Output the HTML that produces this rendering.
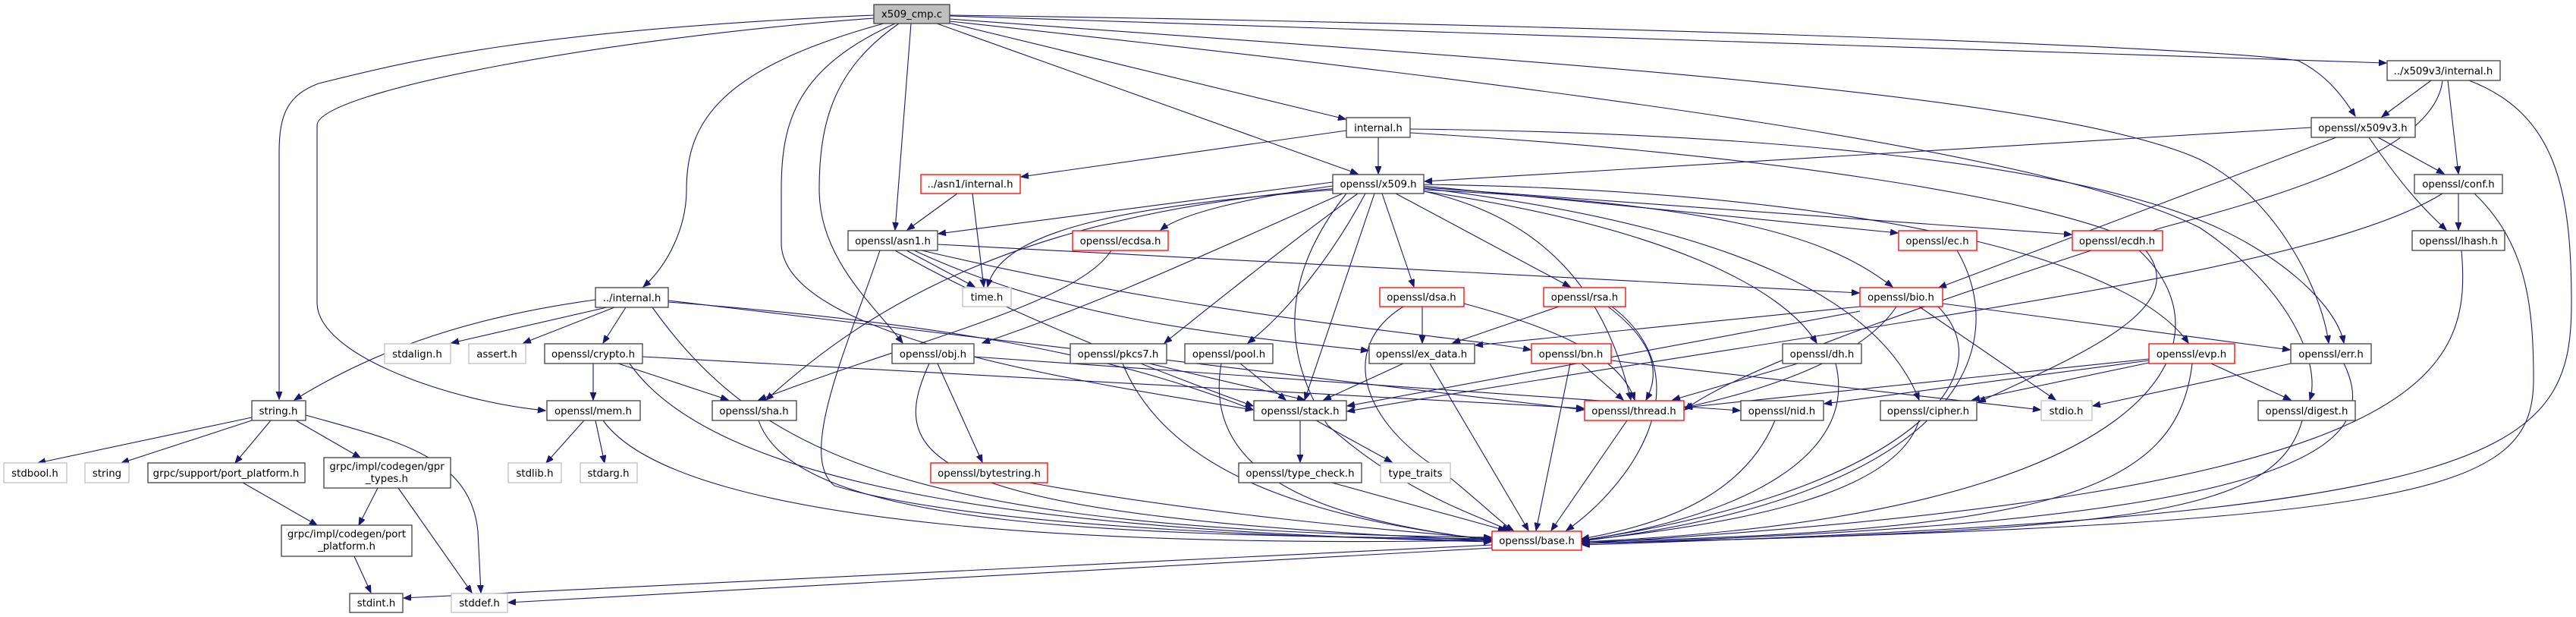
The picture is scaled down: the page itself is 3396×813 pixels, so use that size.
<!DOCTYPE html>
<html><head><meta charset="utf-8"><style>
html,body{margin:0;padding:0;background:#fff;}
svg{display:block;}
text{font-family:"DejaVu Sans","Liberation Sans",sans-serif;font-size:13.3px;fill:#000;text-anchor:middle;}
.e{fill:none;stroke:#191970;stroke-width:1.1;marker-end:url(#a);}
.nb{fill:#fff;stroke:#404040;stroke-width:1.3;}
.nr{fill:#fff;stroke:#ff0000;stroke-width:1.3;}
.ng{fill:#fff;stroke:#bfbfbf;stroke-width:1.3;}
</style></head><body>
<svg width="3396" height="813" viewBox="0 0 3396 813" xmlns="http://www.w3.org/2000/svg">
<defs><marker id="a" markerUnits="userSpaceOnUse" markerWidth="12" markerHeight="10" refX="10" refY="4" orient="auto"><path d="M0,0 L10,4 L0,8 z" fill="#191970" stroke="#191970"/></marker></defs>
<g>
<!-- edges from x509_cmp.c -->
<path class="e" d="M1152,20 C700,40 540,80 420,110 C380,125 368,150 368,200 L368,526"/>
<path class="e" d="M1152,24 C800,50 420,120 418,165 L418,400 C420,470 600,530 719,541"/>
<path class="e" d="M1165,31 C950,90 905,160 905,250 C905,300 880,350 848,378"/>
<path class="e" d="M1180,31 C1050,90 1030,160 1030,250 L1030,320 C1030,440 1400,500 1652,540"/>
<path class="e" d="M1185,31 C1100,90 1080,160 1080,250 C1080,340 1150,400 1190,452"/>
<path class="e" d="M1201,31 L1180,303"/>
<path class="e" d="M1235,31 L1790,229"/>
<path class="e" d="M1250,30 L1774,157"/>
<path class="e" d="M1252,20 C2000,30 2900,60 3030,80 C3070,100 3090,130 3105,153"/>
<path class="e" d="M1252,21 L3146,83"/>
<path class="e" d="M1252,25 C2000,80 2700,120 2900,210 C3000,260 3060,380 3070,452"/>
<path class="e" d="M1252,28 C2100,120 2700,200 2900,300 C3020,380 3060,480 3045,527"/>
<!-- internal.h -->
<path class="e" d="M1817,181 L1817,229"/>
<path class="e" d="M1775,172 L1346,233"/>
<path class="e" d="M1859,170 C2300,175 2700,210 2900,290 C3000,330 3080,400 3090,452"/>
<path class="e" d="M1859,175 C2300,200 2700,260 2820,320 C2900,400 2760,460 2608,530"/>
<!-- ../asn1/internal.h -->
<path class="e" d="M1262,255 L1196,303"/>
<path class="e" d="M1282,255 L1297,378"/>
<!-- x509.h -->
<path class="e" d="M1757,240 L1237,308"/>
<path class="e" d="M1757,245 C1650,260 1560,280 1530,303"/>
<path class="e" d="M1877,245 L2502,307"/>
<path class="e" d="M1877,247 L2731,309"/>
<path class="e" d="M1822,255 L1864,378"/>
<path class="e" d="M1840,255 L2070,378"/>
<path class="e" d="M1877,250 C2300,270 2420,320 2495,378"/>
<path class="e" d="M1877,243 C2400,250 2800,330 2885,452"/>
<path class="e" d="M1760,250 C1500,270 1320,300 1302,378"/>
<path class="e" d="M1812,255 L1720,527"/>
<path class="e" d="M1770,255 C1600,330 1450,400 1295,452"/>
<path class="e" d="M1790,255 C1700,320 1600,400 1535,452"/>
<path class="e" d="M1800,255 C1760,330 1700,410 1645,452"/>
<path class="e" d="M1765,248 C1350,280 1150,400 1010,527"/>
<path class="e" d="M1877,252 C2050,290 2120,400 2150,527"/>
<path class="e" d="M1877,252 C2200,300 2350,380 2395,452"/>
<path class="e" d="M1877,248 C2300,300 2480,400 2530,527"/>
<path class="e" d="M1775,255 C1700,350 1680,450 1750,560 C1850,650 1950,680 1990,699"/>
<!-- asn1.h -->
<path class="e" d="M1195,330 L1285,378"/>
<path class="e" d="M1236,322 L2451,386"/>
<path class="e" d="M1160,330 C1120,450 1050,600 1100,640 C1300,700 1800,710 1966,712"/>
<path class="e" d="M1180,330 C1300,400 1500,480 1652,535"/>
<path class="e" d="M1205,330 C1400,420 1600,440 1804,462"/>
<path class="e" d="M1215,330 C1600,420 1900,440 2018,461"/>
<!-- ../internal.h -->
<path class="e" d="M785,395 C600,420 480,470 388,527"/>
<path class="e" d="M800,405 L595,452"/>
<path class="e" d="M810,405 L690,452"/>
<path class="e" d="M825,405 L795,452"/>
<path class="e" d="M881,396 L2088,540"/>
<path class="e" d="M881,398 C1300,430 1500,480 1652,540"/>
<path class="e" d="M860,405 C1000,600 1200,700 1966,708"/>
<!-- crypto.h -->
<path class="e" d="M782,479 L782,527"/>
<path class="e" d="M815,479 L960,527"/>
<path class="e" d="M847,470 L2088,538"/>
<path class="e" d="M830,479 C950,650 1400,700 1966,714"/>
<!-- string.h family -->
<path class="e" d="M332,550 L50,610"/>
<path class="e" d="M332,554 L160,610"/>
<path class="e" d="M357,554 L310,610"/>
<path class="e" d="M390,554 L475,603"/>
<path class="e" d="M403,547 C520,580 620,600 630,700 L634,781"/>
<path class="e" d="M320,636 L418,692"/>
<path class="e" d="M498,643 L473,692"/>
<path class="e" d="M525,643 L622,781"/>
<path class="e" d="M467,733 L489,781"/>
<!-- mem.h -->
<path class="e" d="M770,554 L720,610"/>
<path class="e" d="M785,554 L797,610"/>
<path class="e" d="M795,554 C900,700 1500,720 1966,712"/>
<!-- base.h -->
<path class="e" d="M1967,718 L532,788"/>
<path class="e" d="M1967,722 L670,794"/>
<!-- others -->
<path class="e" d="M1000,554 C1050,700 1500,705 1966,710"/>
<path class="e" d="M1236,479 L1295,609"/>
<path class="e" d="M1225,479 C1170,600 1200,680 1966,712"/>
<path class="e" d="M1284,470 L2294,541"/>
<path class="e" d="M1357,636 C1600,680 1850,700 1966,710"/>
<path class="e" d="M1515,479 L1720,527"/>
<path class="e" d="M1480,479 C1550,650 1800,690 1966,712"/>
<path class="e" d="M1635,479 L1695,527"/>
<path class="e" d="M1610,479 C1580,650 1800,690 1966,712"/>
<path class="e" d="M1850,479 L1745,527"/>
<path class="e" d="M1885,479 L2015,699"/>
<path class="e" d="M1714,554 L1714,609"/>
<path class="e" d="M1735,554 L1835,609"/>
<path class="e" d="M1756,636 L1985,699"/>
<path class="e" d="M1875,404 L1875,452"/>
<path class="e" d="M1930,400 C2080,440 2140,480 2155,527"/>
<path class="e" d="M1850,404 C1760,460 1800,560 1900,620 C1950,660 1980,690 1995,699"/>
<path class="e" d="M2055,404 L1915,452"/>
<path class="e" d="M2120,404 C2180,450 2190,490 2170,527"/>
<path class="e" d="M2125,404 C2250,500 2150,640 2065,699"/>
<path class="e" d="M2452,404 L1945,455"/>
<path class="e" d="M2452,410 L1776,535"/>
<path class="e" d="M2500,404 C2450,480 2300,520 2221,537"/>
<path class="e" d="M2530,404 L2710,527"/>
<path class="e" d="M2561,400 L3019,461"/>
<path class="e" d="M2555,404 C2650,500 2500,650 2085,712"/>
<path class="e" d="M2085,479 L2140,527"/>
<path class="e" d="M2070,479 L2025,699"/>
<path class="e" d="M2124,475 L2690,540"/>
<path class="e" d="M2370,479 L2205,527"/>
<path class="e" d="M2420,479 C2450,600 2300,680 2085,712"/>
<path class="e" d="M2145,554 L2045,699"/>
<path class="e" d="M2340,554 C2300,650 2200,690 2085,710"/>
<path class="e" d="M2530,554 C2500,650 2300,690 2085,712"/>
<path class="e" d="M2833,478 L2600,527"/>
<path class="e" d="M2915,479 L3020,527"/>
<path class="e" d="M2890,479 C2870,650 2700,700 2085,714"/>
<path class="e" d="M2833,475 L2405,532"/>
<path class="e" d="M2833,473 L2221,537"/>
<path class="e" d="M3020,479 L2759,535"/>
<path class="e" d="M3090,479 C3150,600 3000,690 2085,716"/>
<path class="e" d="M3035,554 C3000,680 2800,700 2085,716"/>
<path class="e" d="M2580,330 C2650,450 2600,650 2085,713"/>
<path class="e" d="M2820,330 C2950,450 2850,680 2085,714"/>
<path class="e" d="M1465,330 C1420,400 1200,450 1000,527"/>
<!-- x509v3 -->
<path class="e" d="M3205,106 L3140,154"/>
<path class="e" d="M3227,106 L3241,229"/>
<path class="e" d="M3255,106 C3370,150 3390,250 3390,400 C3390,600 3300,680 2086,718"/>
<path class="e" d="M3220,106 C3210,200 3000,260 2850,300 C2600,380 2300,480 2221,540"/>
<path class="e" d="M3047,168 L1878,239"/>
<path class="e" d="M3080,181 L2556,379"/>
<path class="e" d="M3135,181 L3222,229"/>
<path class="e" d="M3123,181 C3170,250 3200,280 3225,303"/>
<path class="e" d="M3241,255 L3241,303"/>
<path class="e" d="M3220,255 C3050,360 2500,420 1776,542"/>
<path class="e" d="M3262,255 C3330,320 3340,400 3340,500 C3340,650 3200,690 2086,716"/>
<path class="e" d="M3245,330 C3260,500 3200,650 2086,716"/>
</g>
<g>
<rect x="1152" y="6" width="100" height="25" fill="#bfbfbf" stroke="#404040" stroke-width="1.3"/><text x="1202" y="23">x509_cmp.c</text>
<rect class="nb" x="3147" y="80" width="149" height="26"/><text x="3221" y="98">../x509v3/internal.h</text>
<rect class="nb" x="1775" y="155" width="84" height="26"/><text x="1817" y="173">internal.h</text>
<rect class="nb" x="3047" y="155" width="137" height="26"/><text x="3115" y="173">openssl/x509v3.h</text>
<rect class="nr" x="1214" y="230" width="131" height="25"/><text x="1279" y="247">../asn1/internal.h</text>
<rect class="nb" x="1757" y="230" width="120" height="25"/><text x="1817" y="247">openssl/x509.h</text>
<rect class="nb" x="3183" y="230" width="116" height="25"/><text x="3241" y="247">openssl/conf.h</text>
<rect class="nb" x="1118" y="304" width="118" height="26"/><text x="1177" y="322">openssl/asn1.h</text>
<rect class="nr" x="1414" y="304" width="126" height="26"/><text x="1477" y="322">openssl/ecdsa.h</text>
<rect class="nr" x="2503" y="304" width="103" height="26"/><text x="2554" y="322">openssl/ec.h</text>
<rect class="nr" x="2732" y="304" width="119" height="26"/><text x="2791" y="322">openssl/ecdh.h</text>
<rect class="nb" x="3180" y="304" width="122" height="26"/><text x="3241" y="322">openssl/lhash.h</text>
<rect class="nb" x="785" y="379" width="96" height="26"/><text x="833" y="397">../internal.h</text>
<rect class="ng" x="1269" y="379" width="64" height="25"/><text x="1301" y="396">time.h</text>
<rect class="nr" x="1819" y="379" width="111" height="25"/><text x="1874" y="396">openssl/dsa.h</text>
<rect class="nr" x="2035" y="379" width="108" height="25"/><text x="2089" y="396">openssl/rsa.h</text>
<rect class="nr" x="2452" y="379" width="109" height="25"/><text x="2506" y="396">openssl/bio.h</text>
<rect class="ng" x="507" y="453" width="87" height="26"/><text x="550" y="471">stdalign.h</text>
<rect class="ng" x="618" y="453" width="75" height="26"/><text x="655" y="471">assert.h</text>
<rect class="nb" x="718" y="453" width="129" height="26"/><text x="782" y="471">openssl/crypto.h</text>
<rect class="nb" x="1176" y="453" width="108" height="26"/><text x="1230" y="471">openssl/obj.h</text>
<rect class="nb" x="1411" y="453" width="127" height="26"/><text x="1474" y="471">openssl/pkcs7.h</text>
<rect class="nb" x="1562" y="453" width="116" height="26"/><text x="1620" y="471">openssl/pool.h</text>
<rect class="nb" x="1805" y="453" width="139" height="26"/><text x="1874" y="471">openssl/ex_data.h</text>
<rect class="nr" x="2019" y="453" width="105" height="26"/><text x="2071" y="471">openssl/bn.h</text>
<rect class="nb" x="2350" y="453" width="104" height="26"/><text x="2402" y="471">openssl/dh.h</text>
<rect class="nr" x="2833" y="453" width="113" height="26"/><text x="2889" y="471">openssl/evp.h</text>
<rect class="nb" x="3020" y="453" width="106" height="26"/><text x="3073" y="471">openssl/err.h</text>
<rect class="nb" x="332" y="528" width="71" height="26"/><text x="367" y="546">string.h</text>
<rect class="nb" x="721" y="528" width="123" height="26"/><text x="782" y="546">openssl/mem.h</text>
<rect class="nb" x="939" y="528" width="111" height="26"/><text x="994" y="546">openssl/sha.h</text>
<rect class="nb" x="1653" y="528" width="122" height="26"/><text x="1714" y="546">openssl/stack.h</text>
<rect class="nr" x="2089" y="528" width="131" height="26"/><text x="2154" y="546">openssl/thread.h</text>
<rect class="nb" x="2295" y="528" width="109" height="26"/><text x="2349" y="546">openssl/nid.h</text>
<rect class="nb" x="2479" y="528" width="127" height="26"/><text x="2542" y="546">openssl/cipher.h</text>
<rect class="ng" x="2691" y="528" width="67" height="26"/><text x="2724" y="546">stdio.h</text>
<rect class="nb" x="2977" y="528" width="128" height="26"/><text x="3041" y="546">openssl/digest.h</text>
<rect class="ng" x="5" y="610" width="83" height="26"/><text x="46" y="628">stdbool.h</text>
<rect class="ng" x="112" y="610" width="58" height="26"/><text x="141" y="628">string</text>
<rect class="nb" x="195" y="610" width="207" height="26"/><text x="298" y="628">grpc/support/port_platform.h</text>
<rect class="nb" x="427" y="603" width="167" height="40"/><text x="510" y="619">grpc/impl/codegen/gpr</text><text x="510" y="635">_types.h</text>
<rect class="ng" x="670" y="610" width="70" height="26"/><text x="705" y="628">stdlib.h</text>
<rect class="ng" x="765" y="610" width="75" height="26"/><text x="802" y="628">stdarg.h</text>
<rect class="nr" x="1227" y="610" width="154" height="26"/><text x="1304" y="628">openssl/bytestring.h</text>
<rect class="nb" x="1633" y="610" width="162" height="26"/><text x="1714" y="628">openssl/type_check.h</text>
<rect class="ng" x="1820" y="610" width="92" height="26"/><text x="1866" y="628">type_traits</text>
<rect class="nb" x="371" y="692" width="172" height="41"/><text x="457" y="708">grpc/impl/codegen/port</text><text x="457" y="724">_platform.h</text>
<rect class="nr" x="1967" y="700" width="118" height="25"/><text x="2026" y="717">openssl/base.h</text>
<rect class="nb" x="461" y="782" width="70" height="25"/><text x="496" y="799">stdint.h</text>
<rect class="ng" x="595" y="782" width="74" height="25"/><text x="632" y="799">stddef.h</text>
</g>
</svg>
</body></html>
